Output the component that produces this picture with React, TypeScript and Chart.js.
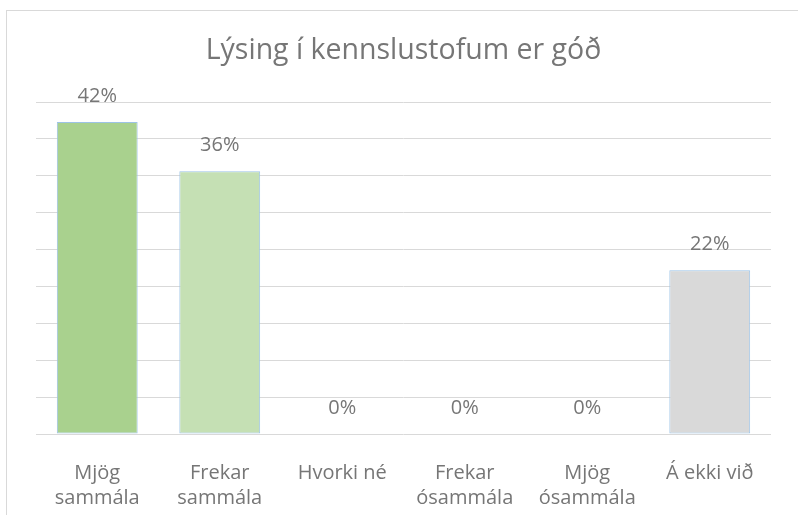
import React, { useEffect, useRef } from "react";
import { Chart, registerables } from "chart.js";

Chart.register(...registerables);

const title = "Lýsing í kennslustofum er góð";
const categories: string[][] = [
  ["Mjög", "sammála"],
  ["Frekar", "sammála"],
  ["Hvorki né"],
  ["Frekar", "ósammála"],
  ["Mjög", "ósammála"],
  ["Á ekki við"],
];
const values = [0.423, 0.356, 0, 0, 0, 0.222];
const valueLabels = ["42%", "36%", "0%", "0%", "0%", "22%"];
const barColors = ["#A9D18E", "#C5E0B4", "#C5E0B4", "#C5E0B4", "#C5E0B4", "#D9D9D9"];
const yMax = 0.45;
const yStep = 0.05;

const FONT = "'Open Sans', sans-serif";
const TEXT = "#767676";

const labelPlugin = {
  id: "valueLabels",
  afterDatasetsDraw(chart: any) {
    const ctx = chart.ctx;
    const meta = chart.getDatasetMeta(0);
    ctx.save();
    ctx.font = `20px ${FONT}`;
    ctx.fillStyle = TEXT;
    ctx.textAlign = "center";
    ctx.textBaseline = "middle";
    meta.data.forEach((el: any, i: number) => {
      ctx.fillText(valueLabels[i], el.x, el.y - 26);
    });
    ctx.restore();
  },
};

const titlePlugin = {
  id: "customTitle",
  afterDraw(chart: any) {
    const ctx = chart.ctx;
    const a = chart.chartArea;
    ctx.save();
    ctx.font = `28.5px ${FONT}`;
    ctx.fillStyle = TEXT;
    ctx.textAlign = "center";
    ctx.textBaseline = "middle";
    ctx.fillText(title, (a.left + a.right) / 2, 51);
    ctx.restore();
  },
};

export default function App() {
  const ref = useRef<HTMLCanvasElement | null>(null);
  useEffect(() => {
    if (!ref.current) return;
    const chart = new Chart(ref.current, {
      type: "bar",
      data: {
        labels: categories,
        datasets: [
          {
            data: values,
            backgroundColor: barColors,
            borderColor: "#9DC3E6",
            borderWidth: 1,
            borderSkipped: false,
            barPercentage: 0.66,
            categoryPercentage: 1,
          },
        ],
      },
      options: {
        responsive: true,
        maintainAspectRatio: false,
        animation: false,
        layout: { padding: { left: 36, right: 27, top: 102, bottom: 0 } },
        plugins: { legend: { display: false }, tooltip: { enabled: false }, title: { display: false } },
        scales: {
          x: {
            grid: { display: false },
            border: { display: false },
            ticks: {
              color: TEXT,
              font: { family: FONT, size: 20, lineHeight: 1.25 },
              padding: 19,
              maxRotation: 0,
              autoSkip: false,
            },
            afterFit: (s: any) => {
              s.height = 81;
            },
          },
          y: {
            min: 0,
            max: yMax,
            ticks: { display: false, stepSize: yStep },
            grid: { color: "#d9d9d9", lineWidth: 1, drawTicks: false },
            border: { display: false },
            afterFit: (s: any) => {
              s.width = 0;
            },
          },
        },
      },
      plugins: [labelPlugin, titlePlugin],
    });
    return () => chart.destroy();
  }, []);

  return (
    <div style={{ position: "fixed", left: 0, top: 0, width: 798, height: 515, overflow: "hidden", background: "#fff" }}>
      <div
        style={{
          position: "absolute",
          left: 6,
          top: 10,
          width: 900,
          height: 600,
          border: "1px solid #d9d9d9",
          boxSizing: "border-box",
        }}
      />
      <div style={{ position: "absolute", left: 0, top: 0, width: 798, height: 515 }}>
        <canvas ref={ref} />
      </div>
    </div>
  );
}
